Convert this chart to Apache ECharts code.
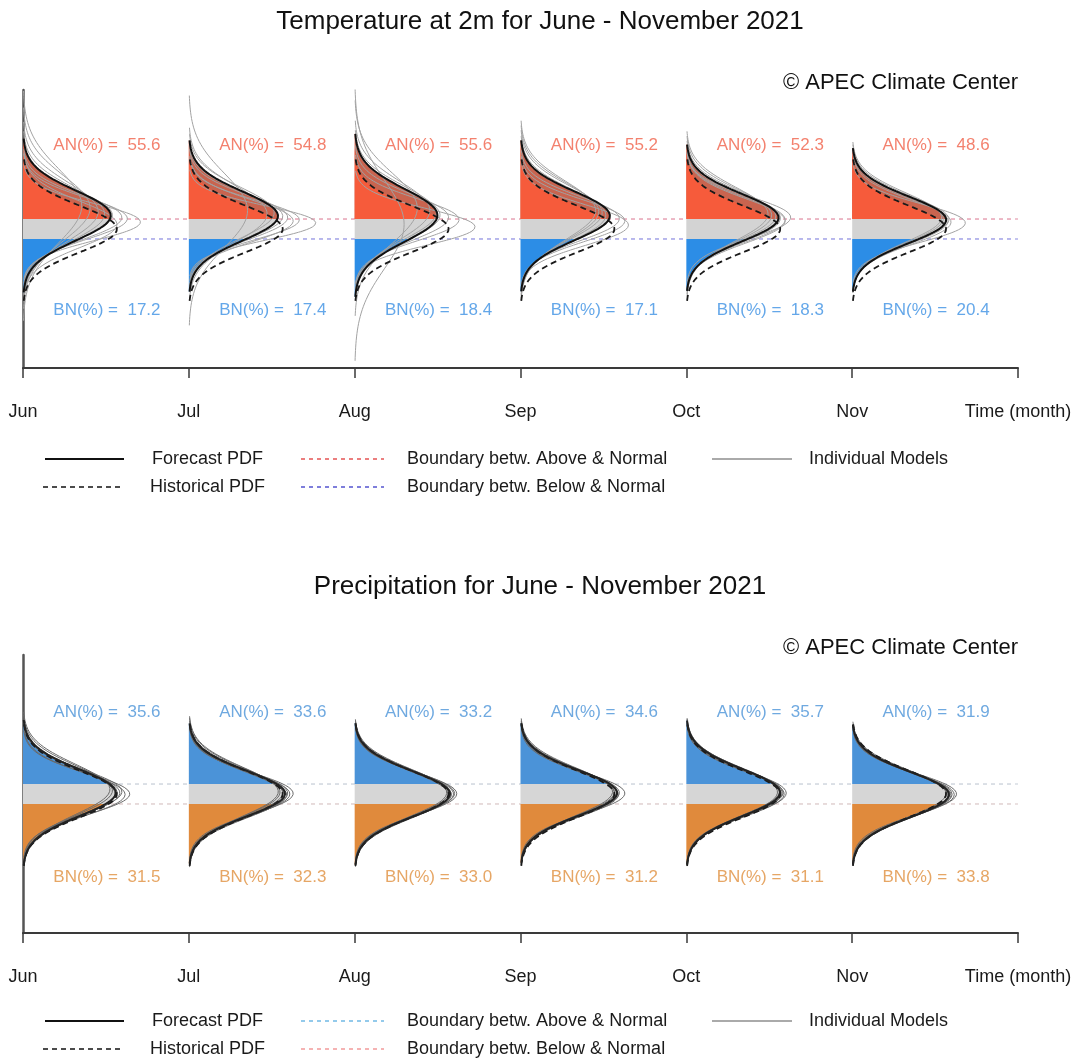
<!DOCTYPE html>
<html><head><meta charset="utf-8">
<script src="https://cdn.jsdelivr.net/npm/echarts@6/dist/echarts.min.js"></script>
<style>html,body{margin:0;padding:0;background:#fff}#c{width:1079px;height:1059px}</style>
</head><body><div id="c"></div>
<script>
// ---------------- data ----------------
const xTickLabels = ['Jun','Jul','Aug','Sep','Oct','Nov','Time (month)'];
const tempAN = [55.6, 54.8, 55.6, 55.2, 52.3, 48.6];
const tempBN = [17.2, 17.4, 18.4, 17.1, 18.3, 20.4];
const precAN = [35.6, 33.6, 33.2, 34.6, 35.7, 31.9];
const precBN = [31.5, 32.3, 33.0, 31.2, 31.1, 33.8];
// standardized forecast PDF parameters (mean, sd)
const tempFcstMean = [0.581, 0.558, 0.590, 0.568, 0.489, 0.396];
const tempFcstSd   = [1.070, 1.053, 1.135, 1.051, 1.018, 0.999];
const precFcstMean = [0.057, 0.018, 0.003, 0.046, 0.063, -0.026];
const precFcstSd   = [1.012, 0.976, 0.985, 0.972, 1.002, 0.970];
// historical (climatological) PDF parameters
const histMean = [0, 0, 0, 0, 0, 0];
const histSd   = [1, 1, 1, 1, 1, 1];
// tercile boundaries (standardized)
const boundUpper = 0.4307;
const boundLower = -0.4307;
// individual models: [mean, sd] per month
const tempModels = [
  [[0.30,0.80],[0.50,0.95],[0.60,1.05],[0.75,1.25],[0.90,1.40],[0.45,0.90],[0.65,1.15],[1.00,1.60],[0.20,1.00]],
  [[0.26,0.74],[0.50,0.95],[0.70,1.10],[0.80,1.60],[0.55,1.00],[0.40,0.85],[0.65,1.20],[0.35,0.90]],
  [[0.09,0.78],[0.20,1.90],[0.60,1.10],[0.80,1.25],[0.90,1.50],[0.40,0.90],[0.50,1.00],[0.70,1.15]],
  [[0.17,0.87],[0.55,1.05],[0.70,1.15],[0.80,1.25],[0.45,0.95],[0.60,1.10],[0.35,0.90],[0.75,1.20]],
  [[0.50,0.90],[0.45,1.00],[0.55,1.05],[0.40,0.95],[0.60,1.10],[0.50,1.00],[0.35,0.95],[0.65,1.15]],
  [[0.26,0.83],[0.40,1.00],[0.35,0.98],[0.45,1.03],[0.30,0.95],[0.50,1.05],[0.38,1.00],[0.42,0.97]]
];
const precModels = [
  [[0.10,0.95],[0.02,1.02],[0.15,1.05],[-0.02,0.92],[0.08,1.00],[0.20,1.08],[0.00,0.88],[0.05,0.97]],
  [[0.00,0.93],[0.05,1.00],[-0.03,0.96],[0.08,1.03],[0.02,0.90],[0.10,1.05],[-0.05,0.98],[0.03,0.95]],
  [[0.00,0.95],[0.03,0.98],[-0.04,1.00],[0.06,1.02],[0.01,0.92],[-0.02,0.97],[0.05,1.00],[0.02,0.94]],
  [[0.05,0.95],[0.08,1.00],[0.00,0.97],[0.10,1.02],[0.03,0.90],[0.06,0.98],[-0.02,0.96],[0.04,1.00]],
  [[0.06,0.97],[0.10,1.01],[0.02,0.99],[0.08,1.03],[0.04,0.94],[0.07,1.00],[0.00,0.96],[0.05,0.98]],
  [[-0.03,0.92],[0.00,0.96],[-0.05,0.98],[0.02,1.00],[-0.02,0.94],[0.01,0.97],[-0.04,0.95],[0.00,0.90]]
];

// ---------------- helpers ----------------
const K = 1.42;      // horizontal size of a unit density, in months
const TRUNC = 3.1;   // curves drawn over mean +/- TRUNC sd
function pdf(y, mu, s){ const z=(y-mu)/s; return Math.exp(-0.5*z*z)/(s*Math.sqrt(2*Math.PI)); }
function curve(m, mu, s){
  const pts=[], n=160, lo=mu-TRUNC*s, hi=mu+TRUNC*s;
  for(let i=0;i<=n;i++){ const y=lo+(hi-lo)*i/n; pts.push([m+K*pdf(y,mu,s), y]); }
  return pts;
}
function region(m, mu, s, ya, yb, xf){
  const lo=Math.max(ya, mu-TRUNC*s), hi=Math.min(yb, mu+TRUNC*s);
  if(hi<=lo) return null;
  const pts=[[m,lo]], n=80;
  for(let i=0;i<=n;i++){ const y=lo+(hi-lo)*i/n; pts.push([m+xf(y), y]); }
  pts.push([m,hi]);
  return pts;
}

const series=[];
function buildPanel(gi, fMean, fSd, models, AN, BN, cfg){
  const polys=[];
  for(let m=0;m<6;m++){
    const mu=fMean[m], s=fSd[m], hm=histMean[m], hs=histSd[m];
    const fx=y=>K*pdf(y,mu,s);
    if(cfg.darkBand){
      polys.push({c:cfg.upperDark, p:region(m,mu,s,boundUpper,99,fx)});
      polys.push({c:cfg.upper, p:region(m,mu,s,boundUpper,99,y=>K*Math.min(pdf(y,mu,s),pdf(y,hm,hs)))});
    } else {
      polys.push({c:cfg.upper, p:region(m,mu,s,boundUpper,99,fx)});
    }
    polys.push({c:cfg.mid, p:region(m,mu,s,boundLower,boundUpper,fx)});
    polys.push({c:cfg.lower, p:region(m,mu,s,-99,boundLower,fx)});
  }
  const P=polys.filter(d=>d.p);
  series.push({
    type:'custom', xAxisIndex:gi, yAxisIndex:gi, z:2, silent:true, animation:false,
    data:P.map((d,i)=>[d.p[0][0], d.p[0][1]]),
    encode:{x:0,y:1},
    renderItem:(params, api)=>{
      const d=P[params.dataIndex];
      return {type:'polygon', shape:{points:d.p.map(q=>api.coord(q))}, style:{fill:d.c, stroke:null}};
    }
  });
  // boundaries
  [[boundUpper,cfg.bUpColor],[boundLower,cfg.bLoColor]].forEach(([b,col])=>{
    series.push({type:'line', xAxisIndex:gi, yAxisIndex:gi, z:1, silent:true, animation:false, showSymbol:false,
      data:[[0,b],[6,b]], lineStyle:{color:col, width:1.2, type:[4,4]}});
  });
  for(let m=0;m<6;m++){
    models[m].forEach(([mu,s])=>{
      series.push({type:'line', xAxisIndex:gi, yAxisIndex:gi, z:3, silent:true, animation:false, showSymbol:false,
        data:curve(m,mu,s), lineStyle:{color:cfg.modelColor, width:1}});
    });
    series.push({type:'line', xAxisIndex:gi, yAxisIndex:gi, z:4, silent:true, animation:false, showSymbol:false,
      data:curve(m,histMean[m],histSd[m]), lineStyle:{color:'#1a1a1a', width:1.8, type:[6,4]}});
    series.push({type:'line', xAxisIndex:gi, yAxisIndex:gi, z:5, silent:true, animation:false, showSymbol:false,
      data:curve(m,fMean[m],fSd[m]), lineStyle:{color:cfg.fcstColor, width:2}});
  }
  // AN / BN annotations
  series.push({type:'scatter', xAxisIndex:gi, yAxisIndex:gi, z:6, silent:true, animation:false, symbolSize:0,
    data:AN.map((v,m)=>({value:[m+0.506, cfg.anY], label:{formatter:'AN(%) =  '+v.toFixed(1)}})),
    label:{show:true, position:'inside', color:cfg.anColor, fontSize:17, fontFamily:'Liberation Sans, Arial, sans-serif'}});
  series.push({type:'scatter', xAxisIndex:gi, yAxisIndex:gi, z:6, silent:true, animation:false, symbolSize:0,
    data:BN.map((v,m)=>({value:[m+0.506, cfg.bnY], label:{formatter:'BN(%) =  '+v.toFixed(1)}})),
    label:{show:true, position:'inside', color:cfg.bnColor, fontSize:17, fontFamily:'Liberation Sans, Arial, sans-serif'}});
}

buildPanel(0, tempFcstMean, tempFcstSd, tempModels, tempAN, tempBN, {
  darkBand:true, upperDark:'#c9644f', upper:'#f65b3b', mid:'#d3d3d3', lower:'#2c8de6',
  bUpColor:'#e08aa0', bLoColor:'#8a8ae0', modelColor:'#a2a2a2', fcstColor:'#111',
  anY:3.62, bnY:-3.5, anColor:'#f0624a', bnColor:'#3d91e4'
});
buildPanel(1, precFcstMean, precFcstSd, precModels, precAN, precBN, {
  darkBand:false, upper:'#4b93d8', mid:'#d6d6d6', lower:'#e08a3c',
  bUpColor:'#c4ccd6', bLoColor:'#d8c4c4', modelColor:'#6a6a6a', fcstColor:'#222',
  anY:3.54, bnY:-3.58, anColor:'#4b93d8', bnColor:'#e0903f'
});

const FONT='Liberation Sans, Arial, Helvetica, sans-serif';
function xAxisCfg(gi){
  return {type:'value', gridIndex:gi, min:0, max:6, interval:1,
    axisLine:{show:true, onZero:false, lineStyle:{color:'#3a3a3a', width:2}},
    axisTick:{show:true, length:10, lineStyle:{color:'#3a3a3a', width:1.5}},
    axisLabel:{margin:35, color:'#1a1a1a', fontSize:18, fontFamily:FONT, formatter:v=>xTickLabels[Math.round(v)]||''},
    splitLine:{show:false}};
}
function yAxisCfg(gi){
  return {type:'value', gridIndex:gi, min:-6, max:6,
    axisLine:{show:true, onZero:false, lineStyle:{color:'#555', width:2.5}},
    axisTick:{show:false}, axisLabel:{show:false}, splitLine:{show:false}};
}

function legend(y1, y2, upCol, loCol){
  const t=(x,y,s)=>({type:'text', x:x, y:y, style:{text:s, fill:'#1a1a1a', font:'18px '+FONT, textVerticalAlign:'middle'}});
  const l=(x1,x2,y,col,w,dash)=>({type:'line', shape:{x1:x1,y1:y,x2:x2,y2:y}, style:{stroke:col, lineWidth:w, lineDash:dash||null}});
  return [
    l(45,124,y1,'#111',2), t(152,y1,'Forecast PDF'),
    l(43,124,y2,'#111',1.6,[5,4]), t(150,y2,'Historical PDF'),
    l(301,384,y1,upCol,1.3,[4,4]), t(407,y1,'Boundary betw. Above & Normal'),
    l(301,384,y2,loCol,1.3,[4,4]), t(407,y2,'Boundary betw. Below & Normal'),
    l(712,792,y1,'#aaa',2), t(809,y1,'Individual Models')
  ];
}

const chart=echarts.init(document.getElementById('c'), null, {renderer:'canvas'});
chart.setOption({
  animation:false,
  grid:[{left:23, top:90, width:995, height:278},{left:23, top:655, width:995, height:278}],
  xAxis:[xAxisCfg(0), xAxisCfg(1)],
  yAxis:[yAxisCfg(0), yAxisCfg(1)],
  series:series,
  graphic:[
    {type:'text', x:540, y:22, style:{text:'Temperature at 2m for June - November 2021', fill:'#111', font:'26px '+FONT, textAlign:'center', textVerticalAlign:'middle'}},
    {type:'text', x:1018, y:83, style:{text:'© APEC Climate Center', fill:'#111', font:'22px '+FONT, textAlign:'right', textVerticalAlign:'middle'}},
    {type:'text', x:540, y:587, style:{text:'Precipitation for June - November 2021', fill:'#111', font:'26px '+FONT, textAlign:'center', textVerticalAlign:'middle'}},
    {type:'text', x:1018, y:648, style:{text:'© APEC Climate Center', fill:'#111', font:'22px '+FONT, textAlign:'right', textVerticalAlign:'middle'}}
  ].concat(legend(459,487,'#e03a3a','#3a3ac8')).concat(legend(1021,1049,'#5aaee0','#f08a8a'))
});
</script></body></html>
